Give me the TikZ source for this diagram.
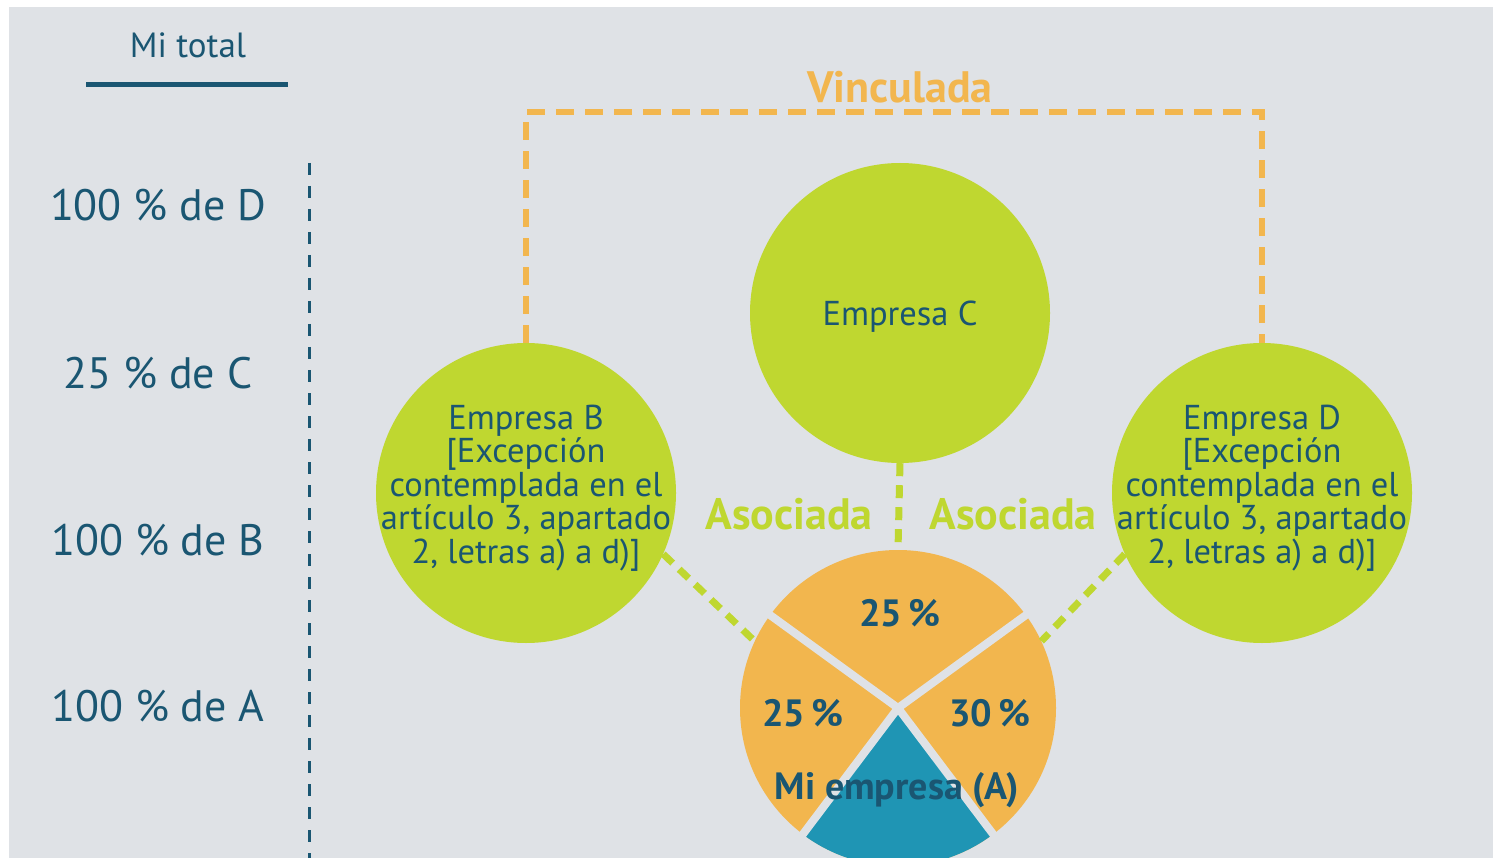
\documentclass[tikz,border=0pt]{standalone}
\usepackage{fontspec}
\setmainfont{PT Sans}
\usetikzlibrary{positioning}
\definecolor{fondo}{HTML}{DFE2E6}
\definecolor{verde}{HTML}{BFD730}
\definecolor{naranja}{HTML}{F2B64E}
\definecolor{azul}{HTML}{1F95B4}
\definecolor{oscuro}{HTML}{1A5672}
\newcommand{\tam}[2]{\fontsize{#1}{#2}\selectfont}

\begin{document}
\begin{tikzpicture}[x=1pt,y=-1pt,
  empresa/.style={circle,fill=verde,minimum size=300pt,inner sep=0pt},
  rotulo/.style={text=oscuro,align=center,font=\tam{34.5}{33.5}},
  total/.style={text=oscuro,font=\tam{44}{48}},
  pct/.style={text=oscuro,font=\bfseries\tam{38}{42}},
  asoc/.style={verde,line width=7pt,dash pattern=on 13pt off 9pt},
  vinc/.style={naranja,line width=6pt,dash pattern=on 18pt off 11pt}]
\useasboundingbox (0,0) rectangle (1493,858);
\clip (0,0) rectangle (1493,858);
\fill[fondo] (9,7) rectangle (1493,858);

% columna izquierda
\node[text=oscuro,font=\tam{35}{38}] (mitotal) at (188,45) {Mi total};
\draw[oscuro,line width=5pt] (86,85) -- (288,85);
\node[total] (tD) at (158,205) {100 \% de D};
\node[total] (tC) at (158,373) {25 \% de C};
\node[total] (tB) at (158,540) {100 \% de B};
\node[total] (tA) at (158,706) {100 \% de A};
\draw[oscuro,line width=3pt,dash pattern=on 12pt off 11pt] (309,163) -- (309,858);

% empresas
\node[circle,fill=naranja,minimum size=316pt,inner sep=0pt] (pie) at (898,708) {};
\node[empresa] (C) at (900,313) {};
\node[empresa] (B) at (526,493) {};
\node[empresa] (D) at (1262,493) {};
\node[rotulo] (tCe) at (900,317) {Empresa C};
\node[rotulo] (tBe) at (526,488) {Empresa B\\{}[Excepción\\contemplada en el\\artículo 3, apartado\\2, letras a) a d)]};
\node[rotulo] (tDe) at (1262,488) {Empresa D\\{}[Excepción\\contemplada en el\\artículo 3, apartado\\2, letras a) a d)]};

\coordinate (vtop) at (900,112);
\draw[vinc] (B.north) |- (vtop) -| (D.north);
\draw[asoc] (C.south) -- (pie.north);
\draw[asoc] (B.-24) -- (pie.155);
\draw[asoc] (D.204) -- (pie.25);
\node[naranja,font=\bfseries\tam{44}{46}] (vinculada) at (900,87) {Vinculada};
\node[verde,font=\bfseries\tam{44}{46}] (asocB) at (789,514) {Asociada};
\node[verde,font=\bfseries\tam{44}{46}] (asocD) at (1013,514) {Asociada};

% mi empresa
\fill[azul] (pie.center) -- (pie.-127) arc[start angle=-127,end angle=-53,radius=158pt] -- cycle;
\foreach \a in {144,36,-53,-127}
  \draw[fondo,line width=8pt] (pie.center) -- ++(\a:162pt);
\node[pct] (p1) at (900,613) {25\,\%};
\node[pct] (p2) at (803,713) {25\,\%};
\node[pct] (p3) at (990,713) {30\,\%};
\node[pct] (miA) at (897,790) {Mi empresa (A)};
\end{tikzpicture}
\end{document}
